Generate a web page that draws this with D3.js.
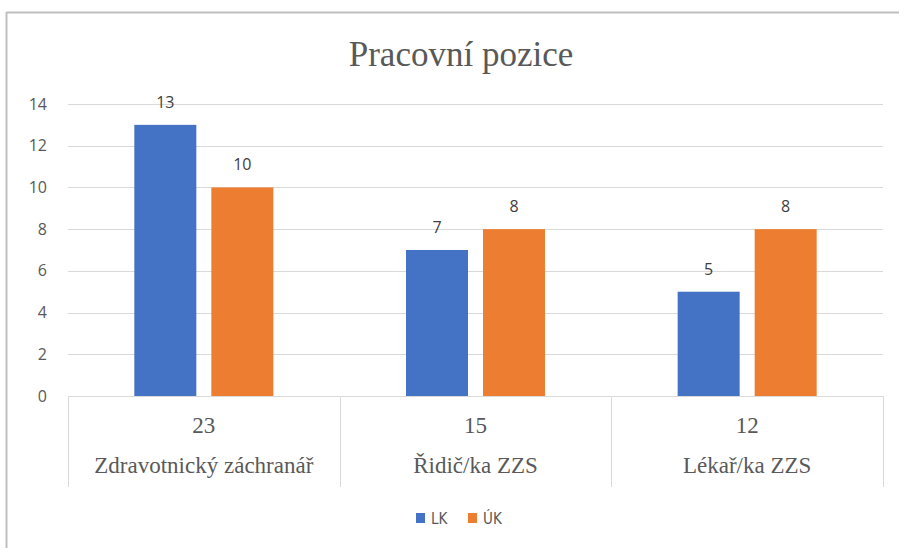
<!DOCTYPE html>
<html>
<head>
<meta charset="utf-8">
<script src="https://cdn.jsdelivr.net/npm/d3@7"></script>
<style>
  html, body { margin: 0; padding: 0; background: #fff; }
  svg { display: block; }
  .serif { font-family: "Liberation Serif", "DejaVu Serif", serif; }
</style>
</head>
<body>
<svg id="chart" width="899" height="548"></svg>
<script>
const categories = ["Zdravotnický záchranář", "Řidič/ka ZZS", "Lékař/ka ZZS"];
const categoryTotals = ["23", "15", "12"];
const seriesNames = ["LK", "ÚK"];
const valuesLK = [13, 7, 5];
const valuesUK = [10, 8, 8];
const yTicks = [0, 2, 4, 6, 8, 10, 12, 14];
const colors = ["#4472C4", "#ED7D31"];
const title = "Pracovní pozice";

const seriesValues = [valuesLK, valuesUK];
const data = categories.map((c, i) => ({
  cat: c,
  vals: seriesNames.map((s, j) => ({ s, v: seriesValues[j][i], color: colors[j] }))
}));

const svg = d3.select("#chart");
const W = 899, H = 548;
const plot = { left: 68, right: 883, top: 104, bottom: 396 };

// Border
svg.append("line").attr("x1", 6.5).attr("x2", W).attr("y1", 12.5).attr("y2", 12.5)
  .attr("stroke", "#bfbfbf").attr("stroke-width", 2);
svg.append("line").attr("x1", 6.5).attr("x2", 6.5).attr("y1", 12).attr("y2", H)
  .attr("stroke", "#bfbfbf").attr("stroke-width", 2);

// Title
svg.append("text").attr("class", "serif").attr("x", 461).attr("y", 66).attr("text-anchor", "middle")
  .attr("font-size", 35).attr("fill", "#595959").text(title);

const x0 = d3.scaleBand().domain(categories).range([plot.left, plot.right]).paddingInner(0).paddingOuter(0);
const x1 = d3.scaleBand().domain(seriesNames).range([0, x0.bandwidth()]).paddingInner(0.195).paddingOuter(0.861);
const y = d3.scaleLinear().domain([0, 14]).range([plot.bottom, plot.top]);

// Gridlines
svg.append("g").selectAll("line").data(yTicks.filter(t => t > 0)).join("line")
  .attr("x1", plot.left).attr("x2", plot.right)
  .attr("y1", d => Math.round(y(d)) + 0.5).attr("y2", d => Math.round(y(d)) + 0.5)
  .attr("stroke", "#d9d9d9").attr("stroke-width", 1);

// Y axis labels
const yAxis = d3.axisLeft(y).tickValues(yTicks).tickSize(0).tickPadding(0);
const yg = svg.append("g").attr("transform", `translate(47,0)`).call(yAxis);
yg.select(".domain").remove();
yg.selectAll("text").attr("font-family", "'Open Sans', sans-serif").attr("font-size", 16)
  .attr("fill", "#595959");

// Bars
const groups = svg.append("g").selectAll("g").data(data).join("g")
  .attr("transform", d => `translate(${x0(d.cat)},0)`);
groups.selectAll("rect").data(d => d.vals).join("rect")
  .attr("x", d => x1(d.s)).attr("width", x1.bandwidth())
  .attr("y", d => y(d.v)).attr("height", d => y(0) - y(d.v))
  .attr("fill", d => d.color);
groups.selectAll("text").data(d => d.vals).join("text")
  .attr("x", d => x1(d.s) + x1.bandwidth() / 2).attr("y", d => y(d.v) - 17)
  .attr("text-anchor", "middle")
  .attr("font-family", "'Open Sans', sans-serif").attr("font-size", 16)
  .attr("fill", "#404040").text(d => d.v);

// Category axis (multi-level)
const axisG = svg.append("g");
axisG.append("line").attr("x1", plot.left).attr("x2", plot.right)
  .attr("y1", plot.bottom + 0.5).attr("y2", plot.bottom + 0.5)
  .attr("stroke", "#d9d9d9").attr("stroke-width", 1);
const bounds = categories.map(c => x0(c)).concat([x0(categories[categories.length - 1]) + x0.bandwidth()]);
axisG.selectAll("line.sep").data(bounds).join("line").attr("class", "sep")
  .attr("x1", d => Math.round(d) + 0.5).attr("x2", d => Math.round(d) + 0.5)
  .attr("y1", plot.bottom).attr("y2", 487)
  .attr("stroke", "#d9d9d9").attr("stroke-width", 1);
axisG.selectAll("text.tot").data(categories).join("text").attr("class", "tot serif")
  .attr("x", d => x0(d) + x0.bandwidth() / 2).attr("y", 433)
  .attr("text-anchor", "middle")
  .attr("font-size", 23).attr("fill", "#595959")
  .text((d, i) => categoryTotals[i]);
axisG.selectAll("text.cat").data(categories).join("text").attr("class", "cat serif")
  .attr("x", d => x0(d) + x0.bandwidth() / 2).attr("y", 473)
  .attr("text-anchor", "middle")
  .attr("font-size", 23).attr("fill", "#595959")
  .text(d => d);

// Legend
const legendX = [416, 468];
const lg = svg.append("g").selectAll("g").data(seriesNames).join("g")
  .attr("transform", (d, i) => `translate(${legendX[i]},513)`);
lg.append("rect").attr("width", 9).attr("height", 10).attr("fill", (d, i) => colors[i]);
lg.append("text").attr("x", 15).attr("y", 11)
  .attr("font-family", "'DejaVu Sans Condensed', 'Open Sans', sans-serif")
  .attr("font-stretch", "condensed")
  .attr("font-size", 15).attr("fill", "#595959").text(d => d);
</script>
</body>
</html>
